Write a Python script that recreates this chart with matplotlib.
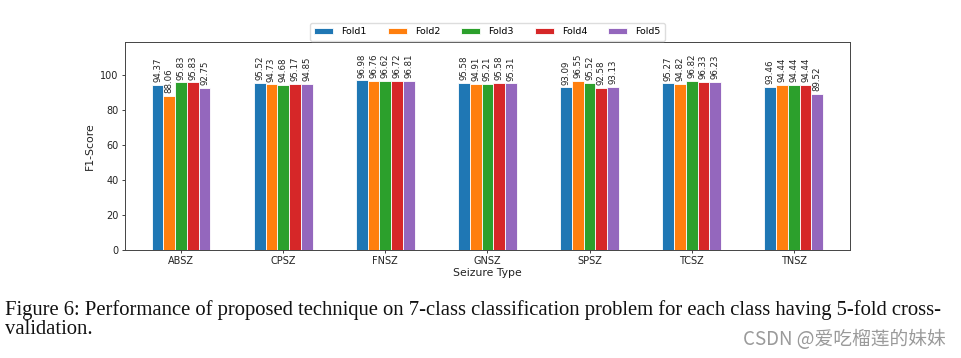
import matplotlib
matplotlib.use("Agg")
import matplotlib.pyplot as plt
import numpy as np

# ---------- 数据 ----------
CLASSES = ["ABSZ", "CPSZ", "FNSZ", "GNSZ", "SPSZ", "TCSZ", "TNSZ"]
FOLDS = ["Fold1", "Fold2", "Fold3", "Fold4", "Fold5"]
FOLD1 = [94.37, 95.52, 96.98, 95.58, 93.09, 95.27, 93.46]
FOLD2 = [88.06, 94.73, 96.76, 94.91, 96.55, 94.82, 94.44]
FOLD3 = [95.83, 94.68, 96.62, 95.21, 95.52, 96.82, 94.44]
FOLD4 = [95.83, 95.17, 96.72, 95.58, 92.58, 96.33, 94.44]
FOLD5 = [92.75, 94.85, 96.81, 95.31, 93.13, 96.23, 89.52]

COLORS = ["#1f77b4", "#ff7f0e", "#2ca02c", "#d62728", "#9467bd"]
BAR_W = 0.115
TICK_FS = 7.0
LABEL_FS = 7.8
ANN_FS = 6.2
LEGEND_FS = 6.8
CAPTION_FS = 14.85

CAPTION_1 = ("Figure 6: Performance of proposed technique on 7-class classification "
             "problem for each class having 5-fold cross-")
CAPTION_2 = "validation."
WATERMARK = "CSDN @爱吃榴莲的妹妹"


def main() -> None:
    fig = plt.figure(figsize=(9.61, 3.58), dpi=100)
    ax = fig.add_axes([0.130, 0.3017, 0.7545, 0.581])

    x = np.arange(len(CLASSES))
    series = [FOLD1, FOLD2, FOLD3, FOLD4, FOLD5]
    for i, (name, vals, col) in enumerate(zip(FOLDS, series, COLORS)):
        pos = x + (i - 2) * BAR_W
        bars = ax.bar(pos, vals, width=BAR_W, color=col, edgecolor="white",
                      linewidth=0.6, label=name)
        for b, v in zip(bars, vals):
            ax.annotate(f"{v:.2f}", (b.get_x() + b.get_width() / 2, v),
                        xytext=(0, 2), textcoords="offset points",
                        ha="center", va="bottom", rotation=90, fontsize=ANN_FS,
                        color="#222222")

    ax.set_xlim(-0.55, 6.55)
    ax.set_ylim(0, 119)
    ax.set_xticks(x)
    ax.set_xticklabels(CLASSES)
    ax.set_yticks(np.arange(0, 101, 20))
    ax.tick_params(labelsize=TICK_FS, length=2.5, width=0.6, pad=2, colors="#222222")
    ax.set_xlabel("Seizure Type", fontsize=LABEL_FS, labelpad=1, color="#222222")
    ax.set_ylabel("F1-Score", fontsize=LABEL_FS, labelpad=4, color="#222222")
    for s in ax.spines.values():
        s.set_linewidth(0.7)
        s.set_color("#444444")

    ax.legend(loc="lower center", bbox_to_anchor=(0.5, 1.0), ncol=5,
              fontsize=LEGEND_FS, frameon=True, handlelength=2.0, handleheight=0.45,
              columnspacing=2.25, borderpad=0.45, handletextpad=0.85,
              borderaxespad=0.15, framealpha=1.0, edgecolor="#dddddd")

    # 图注（两行分开放，避免与水印的包围框重叠）
    fig.text(0.005, 0.163, CAPTION_1, family="Liberation Serif", fontsize=CAPTION_FS,
             ha="left", va="top", color="#111111")
    fig.text(0.005, 0.105, CAPTION_2, family="Liberation Serif", fontsize=CAPTION_FS,
             ha="left", va="top", color="#111111")
    fig.text(0.984, 0.022, WATERMARK, family=["Noto Sans CJK SC", "DejaVu Sans"],
             fontsize=13.5, ha="right", va="bottom", color="#9a9a9a")

    fig.savefig("out.png", dpi=100)
    plt.close(fig)


if __name__ == "__main__":
    main()
